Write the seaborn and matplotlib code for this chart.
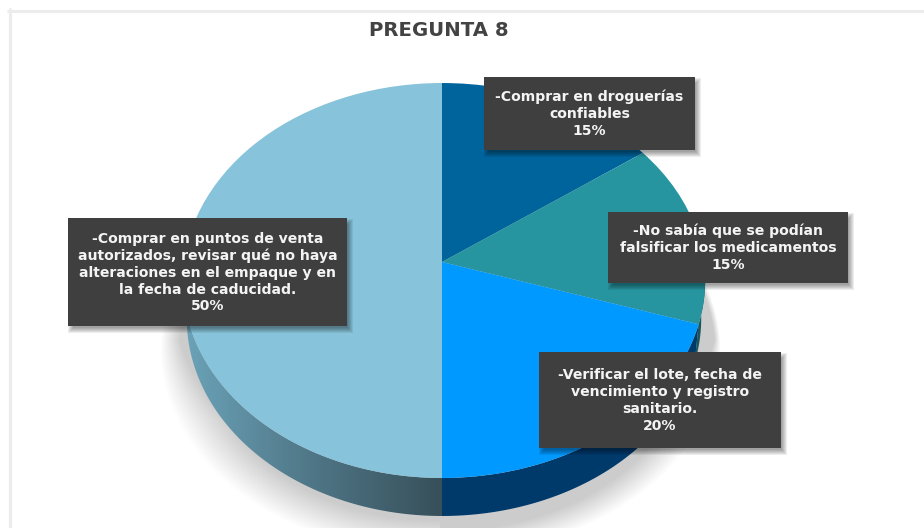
import numpy as np
import matplotlib
matplotlib.use('Agg')
import matplotlib.pyplot as plt
import seaborn as sns
from matplotlib.colors import LinearSegmentedColormap
from matplotlib.patches import Polygon, Rectangle
from matplotlib.transforms import Transform

title = 'PREGUNTA 8'
labels = [
    '-Comprar en droguerías\nconfiables',
    '-No sabía que se podían\nfalsificar los medicamentos',
    '-Verificar el lote, fecha de\nvencimiento y registro\nsanitario.',
    '-Comprar en puntos de venta\nautorizados, revisar qué no haya\nalteraciones en el empaque y en\nla fecha de caducidad.',
]
values = [15, 15, 20, 50]
slice_colors = ['#00649c', '#2795a0', '#0099ff', '#87c3da']
side_colors = ['#00395f', '#17565c', '#003a6b', '#4a7080']

# label boxes in pixels: left, top, right, bottom
boxes = [(484, 77, 695, 150), (608, 212, 848, 283), (539, 352, 781, 448), (68, 218, 347, 326)]

W, H = 924, 528
CX, CY = 442, 262
RX_LEFT, RX_RIGHT = 258, 262
TILT, SQUASH = 0.0937, 171.2
DEPTH = 38


class PieView(Transform):
    # tilts the unit pie into the picture, the far side looks smaller
    input_dims = output_dims = 2

    def transform_non_affine(self, xy):
        xy = np.asarray(xy, dtype=float)
        d = 1 + TILT * xy[:, 1]
        rx = np.where(xy[:, 0] > 0, RX_RIGHT, RX_LEFT)
        return np.column_stack((CX + rx * xy[:, 0] / d, (CY - SQUASH * xy[:, 1]) / d))


def rim(theta1, theta2, n=120):
    t = np.radians(np.linspace(theta1, theta2, n))
    return PieView().transform_non_affine(np.column_stack((np.cos(t), np.sin(t))))


sns.set_theme(style='white')
plt.rcParams['font.family'] = ['DejaVu Sans']
palette = sns.color_palette(slice_colors)

fig = plt.figure(figsize=(W / 100, H / 100), dpi=100)
ax = fig.add_axes([0, 0, 1, 1])

wedges, _ = ax.pie(values, colors=palette, startangle=90, counterclock=False,
                   wedgeprops={'linewidth': 0, 'zorder': 3})
view = PieView() + ax.transData
for w in wedges:
    w.set_transform(view)

# soft shadow under the pie, sharper on the right and softer towards the bottom left
yy, xx = np.mgrid[0:H, 0:W]
r = np.sqrt(((xx - 440) / 280.0) ** 2 + ((yy - 350) / 205.0) ** 2)
fade = 0.02 + 0.1 * np.clip((yy - 340) / 80.0, 0, 1) + 0.05 * (xx < 440)
shadow = np.ones((H, W, 4)) * 0.8
shadow[..., 3] = np.clip((1 - r) / fade, 0, 1)
ax.imshow(shadow, extent=(0, W, H, 0), aspect='auto', zorder=1)

# side of the pie, only the front part shows
for w, color in zip(wedges, side_colors):
    a, b = w.theta1 % 360, w.theta2 % 360
    if b < a:
        b += 360
    lo, hi = max(a, 180), min(b, 360)
    if a <= 0 and b > 180:
        lo, hi = 180, min(b, 360)
    if hi <= lo:
        continue
    top = rim(lo, hi)
    low = top + [0, DEPTH]
    low[:, 0] = CX + (low[:, 0] - CX) * 0.985
    poly = Polygon(np.vstack((top, low[::-1])), closed=True, facecolor=color, linewidth=0, zorder=2)
    ax.add_patch(poly)
    if lo < 270 and hi <= 270 and color == side_colors[3]:
        ramp = LinearSegmentedColormap.from_list('side', ['#6ba3b8', '#4f7686', '#37505a'])
        img = ax.imshow(np.linspace(0, 1, 300)[None, :], cmap=ramp, extent=(184, 442, 530, 300),
                        aspect='auto', zorder=2.5)
        poly.set_facecolor('none')
        img.set_clip_path(poly)

# label boxes with their soft shadow
for (x0, y0, x1, y1), label, value in zip(boxes, labels, values):
    for grow in [3, 2, 1, 0, -1, -2]:
        ax.add_patch(Rectangle((x0 + 3 - grow, y0 + 4 - grow), x1 - x0 + 2 * grow, y1 - y0 + 2 * grow,
                               facecolor='black', alpha=0.07, linewidth=0, zorder=4))
    ax.add_patch(Rectangle((x0, y0), x1 - x0, y1 - y0, facecolor='#3f3f3f', linewidth=0, zorder=5))
    ax.text((x0 + x1) / 2, (y0 + y1) / 2 + 0.5, f'{label}\n{value}%', color='#f4f4f4', fontsize=10.1,
            fontweight='bold', ha='center', va='center', linespacing=1.255, zorder=6)

ax.text(438.5, 30, title, color='#434343', fontsize=14.2, fontweight='bold', ha='center', va='center', zorder=6)

# thin frame around the slide
ax.axvline(9.5, ymin=0, ymax=1 - 9 / H, color='#ececec', lw=2.2, zorder=0.5)
ax.axhline(10.5, xmin=8 / W, xmax=1, color='#ececec', lw=2.2, zorder=0.5)

ax.set_aspect('auto')
ax.set_xlim(0, W)
ax.set_ylim(H, 0)
ax.axis('off')

fig.savefig('out.png', dpi=100, facecolor='white')
plt.close(fig)
